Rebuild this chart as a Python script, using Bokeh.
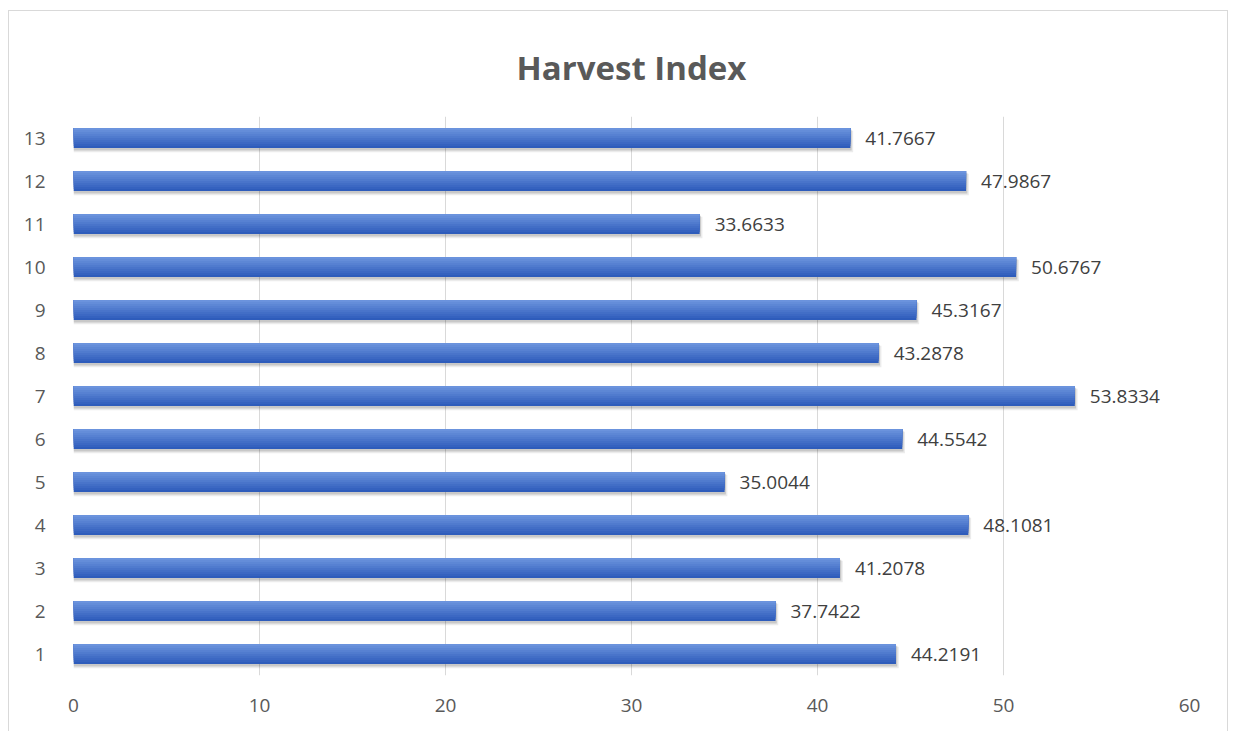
from bokeh.plotting import figure
from bokeh.models import Range1d, FixedTicker, ColumnDataSource
from bokeh.core.properties import value
from bokeh.embed import file_html
from bokeh.resources import INLINE

title_text = "Harvest Index"
categories = [1, 2, 3, 4, 5, 6, 7, 8, 9, 10, 11, 12, 13]
hi_values = [44.2191, 37.7422, 41.2078, 48.1081, 35.0044, 44.5542, 53.8334,
             43.2878, 45.3167, 50.6767, 33.6633, 47.9867, 41.7667]
value_labels = ["44.2191", "37.7422", "41.2078", "48.1081", "35.0044", "44.5542", "53.8334",
                "43.2878", "45.3167", "50.6767", "33.6633", "47.9867", "41.7667"]
x_ticks = [0, 10, 20, 30, 40, 50, 60]

FONT = "Open Sans"

p = figure(width=1220, height=721, output_backend="svg", toolbar_location=None,
           x_range=Range1d(0, 60), y_range=Range1d(0.5, 13.5),
           min_border_left=64, min_border_right=40, min_border_top=105, min_border_bottom=57)
p.styles = {"margin-left": "8px", "margin-top": "10px", "border": "1px solid #d9d9d9",
            "border-bottom": "none"}
p.outline_line_color = None
p.background_fill_color = "white"
p.border_fill_color = "white"

p.title.text = title_text
p.title.align = "center"
p.title.vertical_align = "top"
p.title.text_font = FONT
p.title.text_font_size = "33px"
p.title.text_font_style = "bold"
p.title.text_color = "#595959"
p.title.standoff = 50

p.ygrid.grid_line_color = None
p.xgrid.grid_line_color = "#d9d9d9"
p.xgrid.grid_line_width = 1
p.xaxis.ticker = FixedTicker(ticks=x_ticks)
p.yaxis.ticker = FixedTicker(ticks=categories)
for ax in (p.xaxis[0], p.yaxis[0]):
    ax.axis_line_color = None
    ax.major_tick_line_color = None
    ax.minor_tick_line_color = None
    ax.major_label_text_font = FONT
    ax.major_label_text_font_size = "19px"
    ax.major_label_text_color = "#595959"
p.xaxis.major_label_standoff = 17
p.yaxis.major_label_standoff = 22

src = ColumnDataSource(dict(y=categories, right=hi_values, lab=value_labels))

# shadow
sh1 = ColumnDataSource(dict(y=[c - 0.08 for c in categories], right=[v + 0.15 for v in hi_values]))
p.hbar(y="y", left=0, right="right", height=0.5, source=sh1, fill_color="black",
       fill_alpha=0.08, line_color=None)
sh2 = ColumnDataSource(dict(y=[c - 0.05 for c in categories], right=[v + 0.07 for v in hi_values]))
p.hbar(y="y", left=0, right="right", height=0.48, source=sh2, fill_color="black",
       fill_alpha=0.15, line_color=None)

# gradient bars: layered from full-height dark to thin light top strip
h = 0.47
n = 10
top = (0x6b, 0x93, 0xdd)
bot = (0x2e, 0x5c, 0xbb)
for i in range(n):
    t = i / (n - 1)
    col = "#%02x%02x%02x" % tuple(int(round(bot[k] + (top[k] - bot[k]) * t)) for k in range(3))
    frac = (n - i) / n
    hh = h * frac
    off = h / 2 - hh / 2
    s = ColumnDataSource(dict(y=[c + off for c in categories], right=hi_values))
    p.hbar(y="y", left=0, right="right", height=hh, source=s,
           fill_color=col, line_color=None)

p.text(x="right", y="y", text="lab", source=src, x_offset=15, text_baseline="middle",
       text_align="left", text_font=value(FONT), text_font_size="19px", text_color="#404040")

open("out.html", "w").write(file_html(p, INLINE))
